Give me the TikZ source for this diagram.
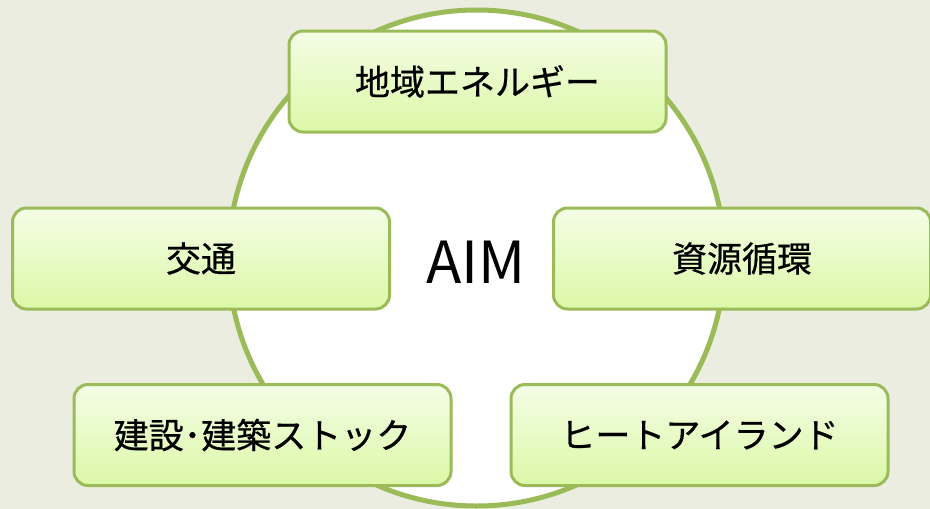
\documentclass[tikz,border=0pt]{standalone}
\usepackage{fontspec}
\setmainfont{Noto Sans CJK JP}[BoldFont = Noto Sans CJK JP, BoldFeatures = {FakeBold = 0.6}]
\usetikzlibrary{positioning}
\definecolor{AIMBack}{HTML}{EBEDE0}
\definecolor{AIMGreen}{HTML}{9BBB59}
\definecolor{AIMTop}{HTML}{F4FDE6}
\definecolor{AIMBottom}{HTML}{DBF8A6}

\begin{document}
\begin{tikzpicture}[x = 1pt, y = -1pt]%
    %
    \tikzstyle{area} = [rectangle, draw = AIMGreen, line width = 3pt, top color = AIMTop, bottom color = AIMBottom, rounded corners = 14pt, minimum width = 377pt, minimum height = 101pt, text = black, font = \fontsize{35}{40}\selectfont\bfseries]%
    \tikzstyle{core} = [circle, draw = AIMGreen, line width = 5pt, fill = white, minimum size = 496pt]%
    %
    \fill [AIMBack] (0,0) rectangle (930,509);%
    \useasboundingbox (0,0) rectangle (930,509);%
    %
    \node [core] (aim-circle) at (476.5,258) {};%
    \node [font = \fontsize{58}{64}\selectfont] (aim) at (476,262) {AIM};%
    %
    \node [area] (energy) at (477.5,81.5) {地域エネルギー};%
    \node [area] (traffic) at (201,258.5) {交通};%
    \node [area] (resource) at (742,258.5) {資源循環};%
    \node [area] (building) at (262.5,435) {建設･建築ストック};%
    \node [area] (heat-island) at (699.5,435) {ヒートアイランド};%
    %
\end{tikzpicture}
\end{document}
